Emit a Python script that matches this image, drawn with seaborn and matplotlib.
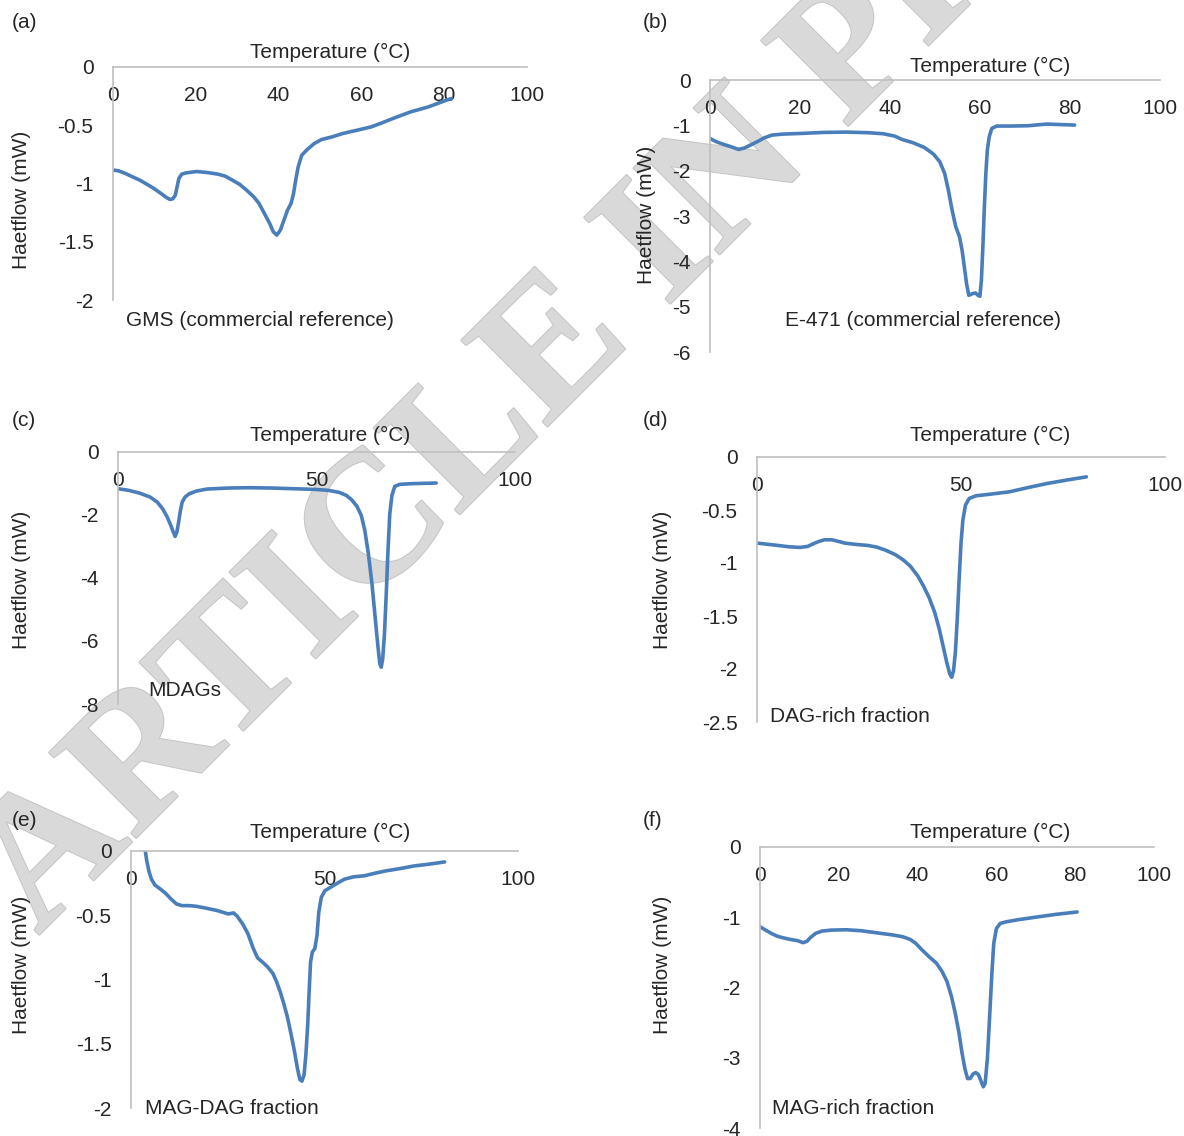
import matplotlib
matplotlib.use("Agg")
import matplotlib.pyplot as plt
import matplotlib.patheffects as pe
import seaborn as sns
import pandas as pd
from matplotlib.ticker import FuncFormatter

# figure size in pixels (dpi 100)
W, H = 1184, 1136

# (a) GMS (commercial reference)
gms_t = [0.26, 1.29, 3.01, 4.73, 6.45, 8.17, 9.89, 11.61, 12.9, 13.76, 14.45, 15.05, 15.48,
         15.91, 16.6, 17.63, 20.22, 22.8, 25.38, 27.1, 28.82, 30.54, 32.26, 33.98, 35.27,
         36.56, 37.85, 38.71, 39.57, 40.43, 41.29, 42.15, 43.01, 43.61, 44.13, 44.73, 45.59,
         46.88, 48.6, 50.32, 52.9, 55.48, 58.92, 62.37, 64.95, 67.53, 71.83, 76.13, 80.43,
         81.72]
gms_hf = [-0.886, -0.891, -0.914, -0.943, -0.971, -1.006, -1.043, -1.086, -1.12, -1.137,
          -1.131, -1.1, -1.029, -0.957, -0.92, -0.909, -0.897, -0.906, -0.92, -0.937, -0.971,
          -1.006, -1.057, -1.114, -1.171, -1.257, -1.343, -1.414, -1.443, -1.4, -1.314,
          -1.229, -1.171, -1.086, -0.971, -0.857, -0.757, -0.709, -0.657, -0.623, -0.6,
          -0.571, -0.543, -0.514, -0.48, -0.443, -0.386, -0.343, -0.286, -0.271]

# (b) E-471 (commercial reference)
e471_t = [0, 1.4, 3.05, 4.7, 6.35, 7.59, 8.83, 10.48, 12.13, 13.78, 16.25, 20.38, 25.33,
          30.28, 35.23, 38.53, 41.01, 42.66, 45.13, 47.61, 49.67, 51.07, 52.15, 52.97, 53.8,
          54.62, 55.45, 56.02, 56.52, 57.01, 57.51, 58.33, 58.99, 59.57, 59.98, 60.31,
          60.64, 60.97, 61.3, 61.63, 62.05, 62.62, 63.7, 66.58, 70.71, 74.83, 81.02]
e471_hf = [-1.289, -1.362, -1.421, -1.473, -1.532, -1.502, -1.443, -1.362, -1.274, -1.215,
           -1.193, -1.178, -1.156, -1.149, -1.163, -1.186, -1.237, -1.311, -1.384, -1.487,
           -1.635, -1.804, -2.062, -2.43, -2.872, -3.24, -3.461, -3.756, -4.124, -4.492,
           -4.75, -4.713, -4.698, -4.75, -4.772, -4.418, -3.682, -2.798, -2.062, -1.546,
           -1.252, -1.068, -1.016, -1.016, -1.009, -0.972, -0.994]

# (c) MDAGs
mdag_t = [0, 2.7, 5.39, 8.09, 9.88, 11.23, 12.4, 13.3, 13.93, 14.38, 14.83, 15.27, 15.72,
          16.17, 16.89, 17.97, 19.77, 22.46, 27.85, 33.24, 38.63, 44.02, 49.42, 53.01,
          55.71, 57.5, 58.85, 60.2, 61.28, 62.17, 63.07, 63.97, 64.69, 65.41, 65.95, 66.31,
          66.67, 67.12, 67.57, 68.01, 68.46, 69.0, 69.72, 70.98, 73.67, 80.14]
mdag_hf = [-1.165, -1.218, -1.303, -1.43, -1.589, -1.801, -2.066, -2.331, -2.542, -2.68,
           -2.542, -2.225, -1.854, -1.589, -1.43, -1.324, -1.239, -1.176, -1.144, -1.133,
           -1.144, -1.165, -1.186, -1.218, -1.282, -1.377, -1.515, -1.727, -2.013, -2.489,
           -3.231, -4.184, -5.138, -6.091, -6.727, -6.833, -6.568, -5.773, -4.502, -3.125,
           -1.96, -1.377, -1.091, -1.028, -1.006, -0.985]

# (d) DAG-rich fraction
dag_t = [0, 2.29, 5.05, 7.8, 10.55, 12.39, 13.76, 15.14, 16.51, 18.35, 19.72, 21.56, 24.31,
         27.06, 29.36, 31.65, 33.94, 35.78, 37.61, 39.45, 40.83, 42.2, 43.58, 44.68, 45.6,
         46.51, 47.25, 47.71, 48.17, 48.62, 49.08, 49.54, 50.0, 50.46, 51.1, 52.02, 53.67,
         57.34, 61.93, 66.51, 71.1, 75.69, 80.73]
dag_hf = [-0.8125, -0.822, -0.834, -0.847, -0.853, -0.844, -0.819, -0.797, -0.781, -0.781,
          -0.794, -0.8125, -0.825, -0.834, -0.85, -0.881, -0.922, -0.969, -1.031, -1.125,
          -1.219, -1.328, -1.469, -1.625, -1.781, -1.938, -2.047, -2.078, -2.016, -1.844,
          -1.531, -1.156, -0.8125, -0.594, -0.453, -0.391, -0.366, -0.35, -0.328, -0.2875,
          -0.25, -0.219, -0.1875]

# (e) MAG-DAG fraction
magdag_t = [3.7, 4.07, 4.62, 5.27, 6.19, 7.58, 8.96, 10.35, 11.74, 13.12, 14.97, 16.82,
            19.59, 22.37, 25.14, 26.52, 27.45, 28.84, 30.22, 31.61, 32.72, 33.92, 35.3,
            36.69, 37.62, 38.54, 39.46, 40.39, 41.31, 42.24, 42.98, 43.62, 44.18, 44.73,
            45.19, 45.66, 46.03, 46.4, 46.86, 47.5, 48.06, 48.52, 49.17, 50.09, 51.48, 53.33,
            55.18, 57.49, 60.26, 63.03, 65.8, 69.5, 73.2, 76.89, 81.05]
magdag_hf = [0.0, -0.077, -0.155, -0.219, -0.265, -0.296, -0.33, -0.374, -0.412, -0.425,
             -0.425, -0.43, -0.446, -0.464, -0.49, -0.482, -0.508, -0.567, -0.644, -0.76,
             -0.832, -0.863, -0.902, -0.954, -1.018, -1.095, -1.186, -1.289, -1.418, -1.559,
             -1.688, -1.778, -1.791, -1.74, -1.585, -1.353, -1.095, -0.863, -0.786, -0.76,
             -0.657, -0.477, -0.361, -0.309, -0.284, -0.25, -0.219, -0.201, -0.193, -0.173,
             -0.155, -0.137, -0.116, -0.103, -0.085]

# (f) MAG-rich fraction
mag_t = [0, 1.43, 2.86, 4.29, 5.71, 7.62, 9.52, 10.95, 11.9, 12.86, 14.1, 15.71, 18.1,
         21.9, 25.71, 29.52, 33.33, 36.19, 38.1, 39.52, 40.95, 42.86, 44.76, 46.19, 47.43,
         48.57, 49.52, 50.48, 51.24, 52.0, 52.67, 53.33, 54.1, 54.76, 55.43, 56.0, 56.67,
         57.14, 57.71, 58.29, 58.86, 59.33, 60.0, 60.95, 62.38, 65.71, 70.48, 75.24, 80.48]
mag_hf = [-1.136, -1.183, -1.23, -1.268, -1.291, -1.315, -1.333, -1.362, -1.343, -1.286,
          -1.23, -1.197, -1.183, -1.178, -1.192, -1.221, -1.249, -1.277, -1.315, -1.371,
          -1.455, -1.559, -1.653, -1.77, -1.911, -2.122, -2.357, -2.638, -2.92, -3.155,
          -3.296, -3.296, -3.23, -3.211, -3.239, -3.319, -3.413, -3.366, -3.014, -2.404,
          -1.793, -1.371, -1.16, -1.089, -1.066, -1.033, -0.995, -0.958, -0.925]

LINE = "#4A7EBB"
SPINE = "#BFBFBF"
TXT = "#262626"
FS = 15


def fx(px):
    return px / W


def fy(py):
    return 1 - py / H


# box = (x at T=0, x at T=100, y at 0, y at ymin) in pixels
panels = [
    dict(letter="(a)", t=gms_t, hf=gms_hf, name="GMS (commercial reference)",
         box=(113, 527, 67, 300), ymin=-2, ystep=0.5, xstep=20,
         let=(12, 22), xl=(330, 52), yl=(22, 200), cap=(126, 320)),
    dict(letter="(b)", t=e471_t, hf=e471_hf, name="E-471 (commercial reference)",
         box=(710, 1160, 80, 352), ymin=-6, ystep=1, xstep=20,
         let=(643, 22), xl=(990, 66), yl=(647, 215), cap=(785, 320)),
    dict(letter="(c)", t=mdag_t, hf=mdag_hf, name="MDAGs",
         box=(118, 515, 452, 704), ymin=-8, ystep=2, xstep=50,
         let=(12, 420), xl=(330, 435), yl=(22, 580), cap=(148, 690)),
    dict(letter="(d)", t=dag_t, hf=dag_hf, name="DAG-rich fraction",
         box=(757, 1165, 457, 722), ymin=-2.5, ystep=0.5, xstep=50,
         let=(643, 420), xl=(990, 435), yl=(662, 580), cap=(770, 717)),
    dict(letter="(e)", t=magdag_t, hf=magdag_hf, name="MAG-DAG fraction",
         box=(131, 518, 851, 1108), ymin=-2, ystep=0.5, xstep=50,
         let=(12, 820), xl=(330, 832), yl=(22, 965), cap=(145, 1108)),
    dict(letter="(f)", t=mag_t, hf=mag_hf, name="MAG-rich fraction",
         box=(760, 1154, 847, 1128), ymin=-4, ystep=1, xstep=20,
         let=(643, 820), xl=(990, 832), yl=(662, 965), cap=(772, 1108)),
]

sns.set_style("white")
plt.rcParams["font.family"] = ["Liberation Sans", "DejaVu Sans"]
plt.rcParams["axes.unicode_minus"] = False

fig = plt.figure(figsize=(W / 100, H / 100), dpi=100)

# watermark, drawn under the axes
fig.text(fx(38), fy(936), "ARTICLE IN PRESS", rotation=45, rotation_mode="anchor",
         ha="left", va="baseline", fontsize=134, family="Liberation Serif",
         weight="bold", color="#D9D9D9", zorder=-1,
         path_effects=[pe.withStroke(linewidth=1.5, foreground="#C6C6C6")])

for p in panels:
    x0, x1, y0, y1 = p["box"]
    ax = fig.add_axes([fx(x0), fy(y1), (x1 - x0) / W, (y1 - y0) / H])
    ax.set_facecolor("none")

    df = pd.DataFrame({"Temperature": p["t"], "Heatflow": p["hf"]})
    sns.lineplot(data=df, x="Temperature", y="Heatflow", ax=ax, color=LINE,
                 linewidth=2.6, sort=False, estimator=None)

    ax.set_xlim(0, 100)
    ax.set_ylim(p["ymin"], 0)
    n = int(round(-p["ymin"] / p["ystep"]))
    ax.set_yticks([-i * p["ystep"] for i in range(n + 1)])
    ax.set_xticks(list(range(0, 101, p["xstep"])))
    ax.yaxis.set_major_formatter(FuncFormatter(lambda v, pos: f"{v:g}"))

    # Excel style: horizontal axis crosses at 0 (top), labels below it
    ax.spines["bottom"].set_position(("data", 0))
    for s in ["top", "right"]:
        ax.spines[s].set_visible(False)
    for s in ["bottom", "left"]:
        ax.spines[s].set_color(SPINE)
        ax.spines[s].set_linewidth(1.2)
    ax.tick_params(axis="both", length=0, labelsize=FS, labelcolor=TXT)
    ax.tick_params(axis="x", pad=14)
    ax.tick_params(axis="y", pad=14)
    ax.grid(False)

    ax.set_xlabel("Temperature (°C)", fontsize=FS, color=TXT, va="center", ha="center")
    ax.xaxis.set_label_coords(fx(p["xl"][0]), fy(p["xl"][1]), transform=fig.transFigure)
    ax.set_ylabel("Haetflow (mW)", fontsize=FS, color=TXT, va="center", ha="center")
    ax.yaxis.set_label_coords(fx(p["yl"][0]), fy(p["yl"][1]), transform=fig.transFigure)

    fig.text(fx(p["let"][0]), fy(p["let"][1]), p["letter"], fontsize=FS, color=TXT,
             ha="left", va="center")
    fig.text(fx(p["cap"][0]), fy(p["cap"][1]), p["name"], fontsize=FS, color=TXT,
             ha="left", va="center")

fig.savefig("out.png", dpi=100)
